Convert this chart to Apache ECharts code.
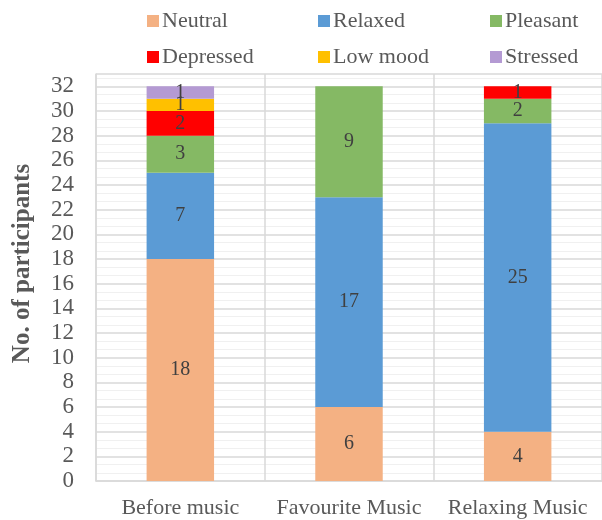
<!DOCTYPE html>
<html>
<head>
<meta charset="utf-8">
<script src="https://cdn.jsdelivr.net/npm/echarts@6/dist/echarts.min.js"></script>
<style>
  html, body { margin: 0; padding: 0; background: #ffffff; }
  #chart { width: 602px; height: 520px; }
</style>
</head>
<body>
<div id="chart"></div>
<script>
// Mood of participants before and after listening to music
const categories = ['Before music', 'Favourite Music', 'Relaxing Music'];
const moodNames = ['Neutral', 'Relaxed', 'Pleasant', 'Depressed', 'Low mood', 'Stressed'];
const neutral   = [18, 6, 4];
const relaxed   = [7, 17, 25];
const pleasant  = [3, 9, 2];
const depressed = [2, 0, 1];
const lowMood   = [1, 0, 0];
const stressed  = [1, 0, 0];
const yTicks = [0, 2, 4, 6, 8, 10, 12, 14, 16, 18, 20, 22, 24, 26, 28, 30, 32];

const moodValues = [neutral, relaxed, pleasant, depressed, lowMood, stressed];
const moodColors = ['#F4B183', '#5B9BD5', '#85B964', '#FF0000', '#FFC000', '#B49AD3'];

const font = 'Liberation Serif, Times New Roman, serif';
const chart = echarts.init(document.getElementById('chart'));

// one legend block per entry so the entries sit in a fixed 3x2 layout
const legendSpots = [[147, 10], [318, 10], [490, 10], [147, 46], [318, 46], [490, 46]];
const legends = moodNames.map((name, i) => ({
  data: [name],
  left: legendSpots[i][0],
  top: legendSpots[i][1],
  padding: 0,
  icon: 'rect',
  itemWidth: 12,
  itemHeight: 12,
  selectedMode: false,
  textStyle: { fontFamily: font, fontSize: 22, color: '#595959', padding: [0, 0, 0, -2] }
}));

chart.setOption({
  animation: false,
  backgroundColor: '#ffffff',
  legend: legends,
  grid: { left: 96, right: -4, top: 74, bottom: 39 },
  xAxis: {
    type: 'category',
    data: categories,
    axisLine: { lineStyle: { color: '#d9d9d9', width: 1.5 } },
    axisTick: { show: false },
    splitLine: { show: true, lineStyle: { color: '#d9d9d9', width: 1.5 } },
    axisLabel: { fontFamily: font, fontSize: 22, color: '#595959', margin: 16, interval: 0 }
  },
  yAxis: {
    type: 'value',
    min: 0,
    max: 33,
    interval: 2,
    name: 'No. of participants',
    nameLocation: 'middle',
    nameRotate: 90,
    nameGap: 61,
    nameTextStyle: {
      fontFamily: font, fontSize: 25, fontWeight: 'bold', color: '#595959',
      padding: [0, 0, 0, 28]
    },
    axisLine: { show: true, lineStyle: { color: '#d9d9d9', width: 1.5 } },
    axisTick: { show: false },
    splitLine: { show: true, lineStyle: { color: '#d9d9d9', width: 1.5 } },
    minorTick: { show: false, splitNumber: 3 },
    minorSplitLine: { show: true, lineStyle: { color: '#f0f0f0', width: 1 } },
    axisLabel: {
      fontFamily: font, fontSize: 23, color: '#595959', margin: 22,
      formatter: v => (yTicks.indexOf(v) >= 0 ? String(v) : '')
    }
  },
  series: moodNames.map((name, i) => ({
    name: name,
    type: 'bar',
    stack: 'mood',
    barWidth: '40%',
    data: moodValues[i],
    itemStyle: { color: moodColors[i] },
    label: {
      show: true,
      position: 'inside',
      fontFamily: font,
      fontSize: 20,
      color: '#404040',
      formatter: p => (p.value > 0 ? String(p.value) : '')
    }
  }))
});
</script>
</body>
</html>
